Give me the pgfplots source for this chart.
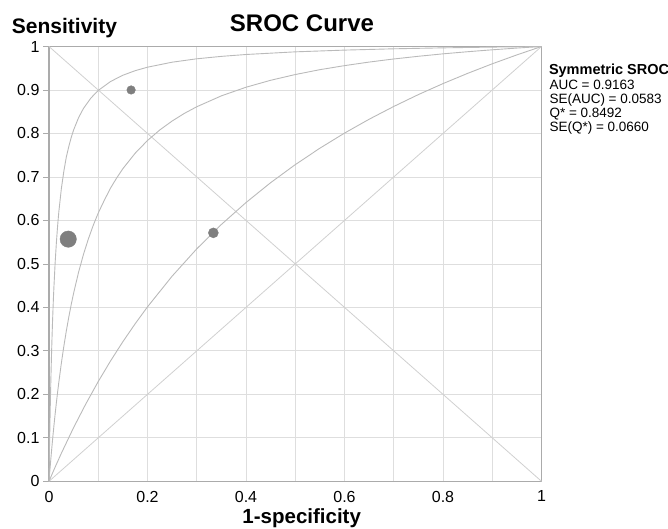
\documentclass[border=0pt]{standalone}
\usepackage{pgfplots}
\pgfplotsset{compat=1.18}
\usepackage{fontspec}
\setmainfont{Liberation Sans}
\usetikzlibrary{calc}

\definecolor{gridc}{HTML}{DEDEDE}
\definecolor{axc}{HTML}{ABABAB}
\definecolor{curvec}{HTML}{BABABA}
\definecolor{diagc}{HTML}{D0D0D0}
\definecolor{ptc}{HTML}{7F7F7F}

\begin{document}
\begin{tikzpicture}[x=1pt,y=1pt]
\begin{axis}[
  name=ax, at={(0,0)}, anchor=south west,
  width=492.5pt, height=434.8pt, scale only axis,
  xmin=0, xmax=1, ymin=0, ymax=1,
  xtick={0,0.2,0.4,0.6,0.8,1},
  minor xtick={0.1,0.3,0.5,0.7,0.9},
  ytick={0,0.1,0.2,0.3,0.4,0.5,0.6,0.7,0.8,0.9,1},
  ytick pos=left, xtick pos=bottom,
  grid=both,
  major grid style={draw=gridc, line width=0.8pt},
  minor grid style={draw=gridc, line width=0.8pt},
  axis line style={axc, line width=1.1pt},
  tick align=outside,
  major tick length=6pt,
  minor tick length=0pt,
  major x tick style={draw=none},
  y tick style={axc, line width=0.8pt},
  ticklabel style={font=\fontsize{16}{16}\selectfont},
  /pgf/number format/assume math mode=true,
  clip=false,
]
% diagonals
\addplot[diagc, line width=0.8pt] coordinates {(0,0) (1,1)};
\addplot[diagc, line width=0.8pt] coordinates {(0,1) (1,0)};
% outer curve
\addplot[curvec, line width=0.9pt] coordinates {
(0,0) (0.001,0.0741) (0.002,0.1382) (0.003,0.1947) (0.004,0.2432) (0.005,0.2867)
(0.006,0.3256) (0.007,0.3616) (0.008,0.3922) (0.009,0.4215)
(0.01,0.4469) (0.0125,0.5031) (0.015,0.5492) (0.0175,0.5876) (0.02,0.6202) (0.025,0.6723)
(0.03,0.7122) (0.035,0.7448) (0.04,0.7692) (0.045,0.7903) (0.05,0.8081) (0.06,0.8362) (0.07,0.8576)
(0.085,0.8814) (0.1,0.8989) (0.125,0.9195) (0.15,0.9339) (0.175,0.9444) (0.2,0.9524)
(0.25,0.9639) (0.3,0.9717) (0.35,0.9773) (0.4,0.9816) (0.5,0.9877) (0.6,0.9917)
(0.7,0.9947) (0.8,0.9969) (0.9,0.9986) (1,1)};
% middle curve
\addplot[curvec, line width=0.9pt] coordinates {
(0,0) (0.001,0.0143) (0.0025,0.0351) (0.005,0.0679) (0.0075,0.0988) (0.01,0.1278)
(0.0125,0.1551) (0.015,0.1809) (0.0175,0.2052) (0.02,0.2283) (0.025,0.2710) (0.03,0.3096)
(0.035,0.3446) (0.04,0.3766) (0.045,0.4060) (0.05,0.4328)
(0.06,0.4807) (0.07,0.5219) (0.08,0.5577) (0.09,0.5892) (0.1,0.6170) (0.1125,0.6468)
(0.125,0.6744) (0.1375,0.6979) (0.15,0.7190) (0.175,0.7546)
(0.2,0.7838) (0.225,0.8081) (0.25,0.8286) (0.275,0.8463) (0.3,0.8614) (0.35,0.8865) (0.4,0.9063)
(0.45,0.9223) (0.5,0.9355) (0.55,0.9467) (0.6,0.9560) (0.65,0.9642) (0.7,0.9713) (0.75,0.9775)
(0.8,0.9831) (0.85,0.9880) (0.9,0.9924) (0.95,0.9964) (1,1)};
% inner curve
\addplot[curvec, line width=0.9pt] coordinates {
(0,0) (0.01,0.0264) (0.025,0.0643) (0.05,0.1236) (0.075,0.1785) (0.1,0.2295)
(0.125,0.2769) (0.15,0.3211) (0.175,0.3624) (0.2,0.4012) (0.25,0.4718) (0.3,0.5346) (0.35,0.5907)
(0.4,0.6411) (0.45,0.6868) (0.5,0.7283) (0.55,0.7661) (0.6,0.8008) (0.65,0.8327) (0.7,0.8621)
(0.75,0.8894) (0.8,0.9147) (0.85,0.9382) (0.9,0.9602) (0.95,0.9807) (1,1)};
% studies
\addplot[only marks, mark=*, mark size=4.3pt, ptc, mark options={draw=ptc, fill=ptc}] coordinates {(0.1667,0.9)};
\addplot[only marks, mark=*, mark size=5pt, ptc, mark options={draw=ptc, fill=ptc}] coordinates {(0.3337,0.5714)};
\addplot[only marks, mark=*, mark size=8.2pt, ptc, mark options={draw=ptc, fill=ptc}] coordinates {(0.039,0.557)};
\end{axis}
\node[anchor=base, font=\bfseries\fontsize{24}{24}\selectfont] at ($(ax.south west)+(253,449.6)$) {SROC Curve};
\node[anchor=base west, inner sep=0pt, font=\bfseries\fontsize{21}{21}\selectfont] at ($(ax.south west)+(-37.3,448)$) {Sensitivity};
\node[anchor=base, inner sep=0pt, font=\bfseries\fontsize{20.5}{20.5}\selectfont] at ($(ax.south west)+(252.7,-42)$) {1-specificity};
\node[anchor=base west, inner sep=0pt, font=\bfseries\fontsize{14.5}{14.5}\selectfont] at ($(ax.south west)+(499.8,407)$) {Symmetric SROC};
\node[anchor=base west, inner sep=0pt, font=\fontsize{13.5}{13.5}\selectfont] at ($(ax.south west)+(500.3,392)$) {AUC = 0.9163};
\node[anchor=base west, inner sep=0pt, font=\fontsize{13.5}{13.5}\selectfont] at ($(ax.south west)+(500.3,377.9)$) {SE(AUC) = 0.0583};
\node[anchor=base west, inner sep=0pt, font=\fontsize{13.5}{13.5}\selectfont] at ($(ax.south west)+(500.3,363.8)$) {Q* = 0.8492};
\node[anchor=base west, inner sep=0pt, font=\fontsize{13.5}{13.5}\selectfont] at ($(ax.south west)+(500.3,349.7)$) {SE(Q*) = 0.0660};
\pgfresetboundingbox
\path[use as bounding box] ($(ax.south west)+(-49,-46.7)$) rectangle ($(ax.south west)+(619,481.3)$);
\end{tikzpicture}
\end{document}
